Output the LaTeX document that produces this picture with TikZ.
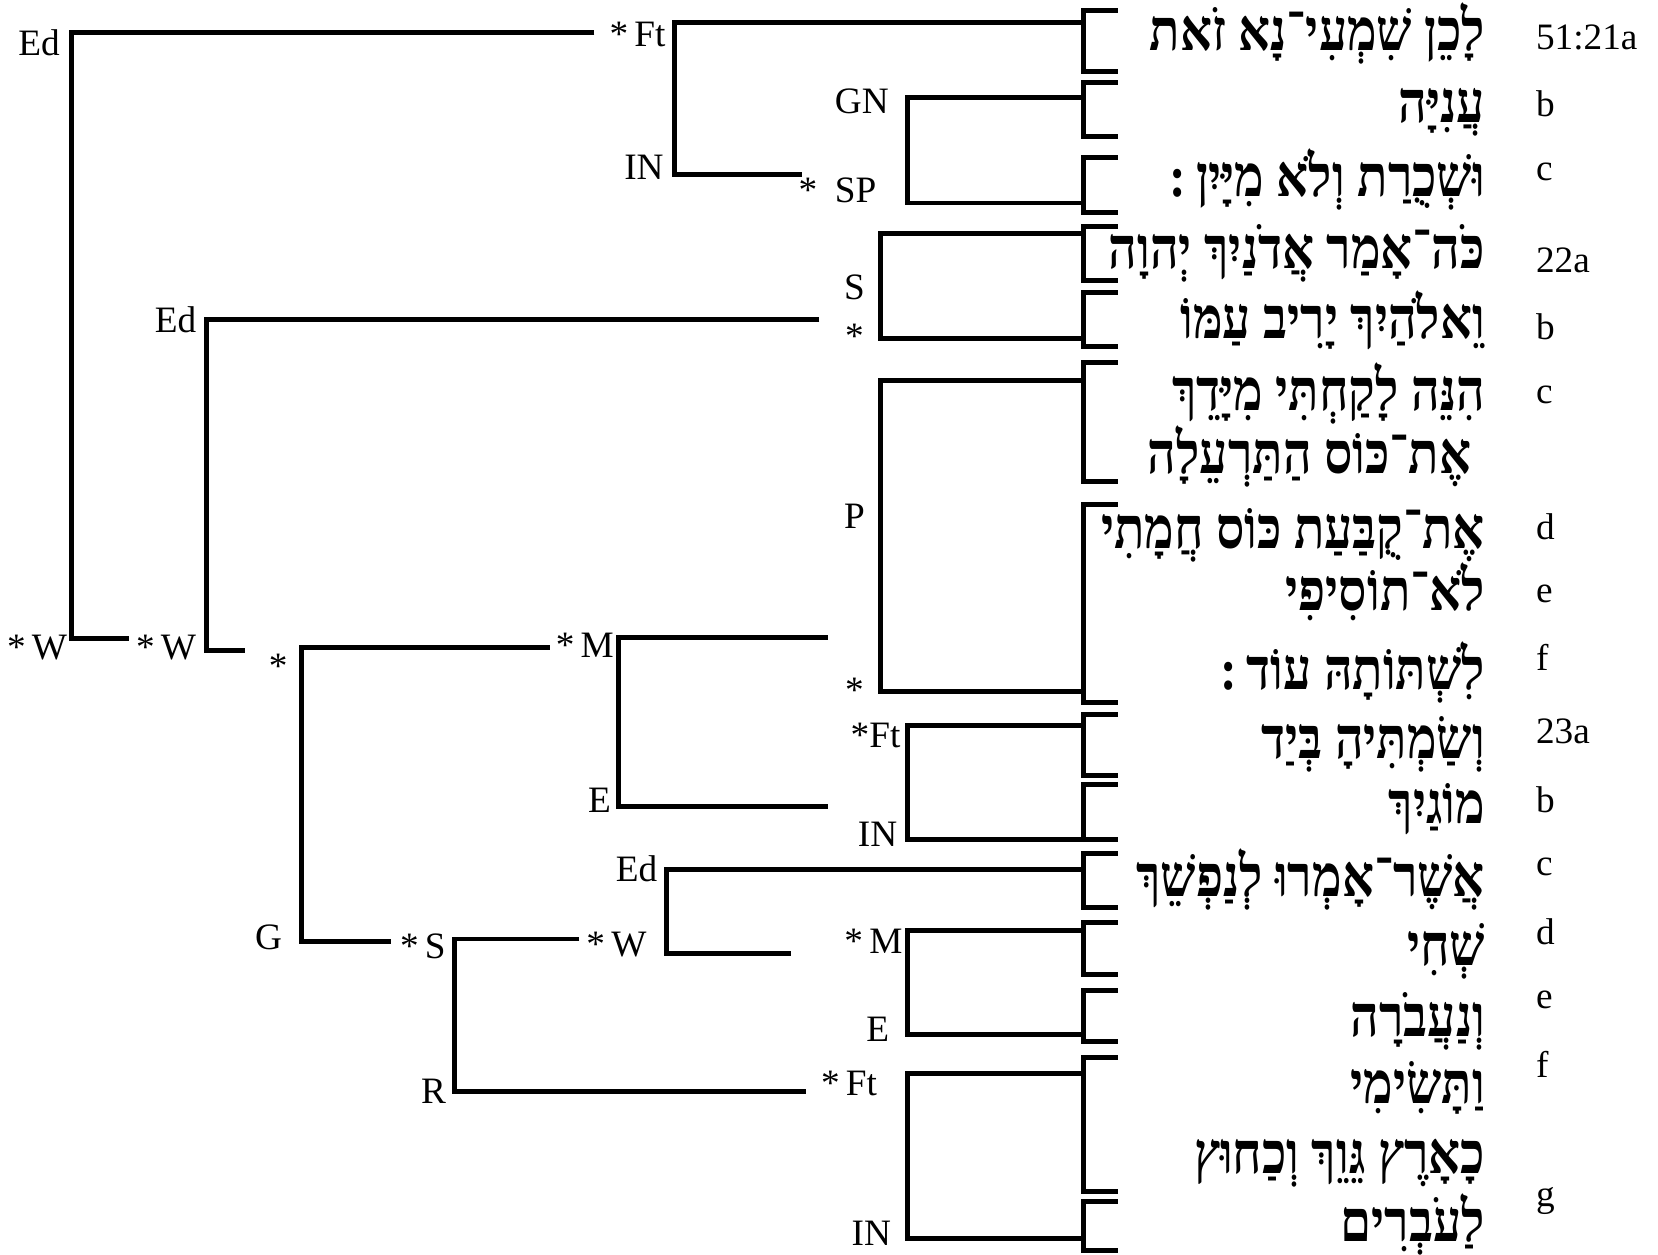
\documentclass[tikz,border=0pt]{standalone}
\usepackage{fontspec}
\setmainfont{Liberation Serif}
\newfontfamily\hebfont[Script=Hebrew,FakeStretch=0.86]{Liberation Serif}
\TeXXeTstate=1

\begin{document}
\begin{tikzpicture}[x=0.10574mm,y=-0.10574mm,
  branch/.style={line width=1.4pt,line join=miter},
  lab/.style={font=\fontsize{10.6}{12}\selectfont,inner sep=0pt},
  verse/.style={font=\fontsize{10.6}{12}\selectfont,inner sep=0pt,anchor=base west},
  heb/.style={font=\hebfont\bfseries\fontsize{16.5}{20}\selectfont,inner sep=0pt,anchor=base east}]
  \useasboundingbox (0,0) rectangle (1568,1186);

  \coordinate (root-t) at (68,31);
  \coordinate (root-b) at (68,604);
  \coordinate (root-e1) at (562,31);
  \coordinate (root-e2) at (122,604);
  \coordinate (ft1-t) at (638,21);
  \coordinate (ft1-b) at (638,165);
  \coordinate (ft1-e2) at (758,165);
  \coordinate (gn-t) at (858,92);
  \coordinate (gn-b) at (858,192);
  \coordinate (w1-t) at (195,302);
  \coordinate (w1-b) at (195,615);
  \coordinate (w1-e1) at (775,302);
  \coordinate (w1-e2) at (232,615);
  \coordinate (s1-t) at (833,221);
  \coordinate (s1-b) at (833,320);
  \coordinate (p-t) at (833,360);
  \coordinate (p-b) at (833,654);
  \coordinate (g-t) at (285,612);
  \coordinate (g-b) at (285,890);
  \coordinate (g-e1) at (520,612);
  \coordinate (g-e2) at (370,890);
  \coordinate (m1-t) at (585,603);
  \coordinate (m1-b) at (585,763);
  \coordinate (m1-e1) at (783,603);
  \coordinate (m1-e2) at (783,763);
  \coordinate (ft2-t) at (858,686);
  \coordinate (ft2-b) at (858,794);
  \coordinate (s2-t) at (430,888);
  \coordinate (s2-b) at (430,1032);
  \coordinate (s2-e1) at (548,888);
  \coordinate (s2-e2) at (762,1032);
  \coordinate (w2-t) at (630,822);
  \coordinate (w2-b) at (630,902);
  \coordinate (w2-e2) at (748,902);
  \coordinate (m2-t) at (858,880);
  \coordinate (m2-b) at (858,978);
  \coordinate (ft3-t) at (858,1015);
  \coordinate (ft3-b) at (858,1171);

  \coordinate (br1) at (1025,21);
  \coordinate (br2) at (1025,92);
  \coordinate (br3) at (1025,192);
  \coordinate (br4) at (1025,221);
  \coordinate (br5) at (1025,320);
  \coordinate (br6) at (1025,360);
  \coordinate (br7) at (1025,654);
  \coordinate (br8) at (1025,686);
  \coordinate (br9) at (1025,794);
  \coordinate (br10) at (1025,822);
  \coordinate (br11) at (1025,880);
  \coordinate (br12) at (1025,978);
  \coordinate (br13) at (1025,1015);
  \coordinate (br14) at (1025,1171);

  \draw[branch] (root-e1) -- (root-t) -- (root-b) -- (root-e2);
  \draw[branch] (br1) -- (ft1-t) -- (ft1-b) -- (ft1-e2);
  \draw[branch] (br2) -- (gn-t) -- (gn-b) -- (br3);
  \draw[branch] (w1-e1) -- (w1-t) -- (w1-b) -- (w1-e2);
  \draw[branch] (br4) -- (s1-t) -- (s1-b) -- (br5);
  \draw[branch] (br6) -- (p-t) -- (p-b) -- (br7);
  \draw[branch] (g-e1) -- (g-t) -- (g-b) -- (g-e2);
  \draw[branch] (m1-e1) -- (m1-t) -- (m1-b) -- (m1-e2);
  \draw[branch] (br8) -- (ft2-t) -- (ft2-b) -- (br9);
  \draw[branch] (s2-e1) -- (s2-t) -- (s2-b) -- (s2-e2);
  \draw[branch] (br10) -- (w2-t) -- (w2-b) -- (w2-e2);
  \draw[branch] (br11) -- (m2-t) -- (m2-b) -- (br12);
  \draw[branch] (br13) -- (ft3-t) -- (ft3-b) -- (br14);

  \draw[branch] (1057,10) -- (1025,10) -- (1025,68) -- (1057,68);
  \draw[branch] (1057,78) -- (1025,78) -- (1025,129) -- (1057,129);
  \draw[branch] (1057,149) -- (1025,149) -- (1025,201) -- (1057,201);
  \draw[branch] (1057,214) -- (1025,214) -- (1025,265) -- (1057,265);
  \draw[branch] (1057,277) -- (1025,277) -- (1025,328) -- (1057,328);
  \draw[branch] (1057,343) -- (1025,343) -- (1025,455) -- (1057,455);
  \draw[branch] (1057,477) -- (1025,477) -- (1025,664) -- (1057,664);
  \draw[branch] (1057,676) -- (1025,676) -- (1025,733) -- (1057,733);
  \draw[branch] (1057,742) -- (1025,742) -- (1025,794) -- (1057,794);
  \draw[branch] (1057,807) -- (1025,807) -- (1025,858) -- (1057,858);
  \draw[branch] (1057,872) -- (1025,872) -- (1025,922) -- (1057,922);
  \draw[branch] (1057,937) -- (1025,937) -- (1025,985) -- (1057,985);
  \draw[branch] (1057,1000) -- (1025,1000) -- (1025,1127) -- (1057,1127);
  \draw[branch] (1057,1136) -- (1025,1136) -- (1025,1183) -- (1057,1183);

  \node[lab] (ed1) at (37,40) {Ed};
  \node[lab] (w1lab) at (35,612) {*\,W};
  \node[lab] (ft1lab) at (603,33) {*\,Ft};
  \node[lab] (in1) at (609,158) {IN};
  \node[lab] (gnlab) at (815,96) {GN};
  \node[lab] (splab) at (792,180) {*\hspace{5pt}SP};
  \node[lab] (ed2) at (166,302) {Ed};
  \node[lab] (w2lab) at (157,612) {*\,W};
  \node[lab] (s1lab) at (808,272) {S};
  \node[lab] (star1) at (808,318) {*};
  \node[lab] (plab) at (808,488) {P};
  \node[lab] (star2) at (808,653) {*};
  \node[lab] (star3) at (263,630) {*};
  \node[lab] (glab) at (254,886) {G};
  \node[lab] (m1lab) at (553,610) {*\,M};
  \node[lab] (e1lab) at (567,757) {E};
  \node[lab] (ft2lab) at (828,696) {*Ft};
  \node[lab] (in2) at (830,789) {IN};
  \node[lab] (s2lab) at (400,895) {*\,S};
  \node[lab] (rlab) at (410,1032) {R};
  \node[lab] (w3lab) at (583,893) {*\,W};
  \node[lab] (ed3) at (602,822) {Ed};
  \node[lab] (m2lab) at (826,890) {*\,M};
  \node[lab] (e2lab) at (830,973) {E};
  \node[lab] (ft3lab) at (803,1025) {*\,Ft};
  \node[lab] (in3) at (824,1166) {IN};

  \node[heb] (h1) at (1405,48) {\beginR לָכֵן שִׁמְעִי־נָא זֹאת\endR};
  \node[heb] (h2) at (1405,116) {\beginR עֲנִיָּה\endR};
  \node[heb] (h3) at (1405,186) {\beginR וּשְׁכֻרַת וְלֹא מִיָּיִן\,:\endR};
  \node[heb] (h4) at (1405,254) {\beginR כֹּה־אָמַר אֲדֹנַיִךְ יְהוָה\endR};
  \node[heb] (h5) at (1405,320) {\beginR וֵאלֹהַיִךְ יָרִיב עַמּוֹ\endR};
  \node[heb] (h6) at (1405,388) {\beginR הִנֵּה לָקַחְתִּי מִיָּדֵךְ\endR};
  \node[heb] (h6b) at (1392,448) {\beginR אֶת־כּוֹס הַתַּרְעֵלָה\endR};
  \node[heb] (h7) at (1405,519) {\beginR אֶת־קֻבַּעַת כּוֹס חֲמָתִי\endR};
  \node[heb] (h8) at (1405,577) {\beginR לֹא־תוֹסִיפִי\endR};
  \node[heb] (h9) at (1405,652) {\beginR לִשְׁתּוֹתָהּ עוֹד\,:\endR};
  \node[heb] (h10) at (1405,717) {\beginR וְשַׂמְתִּיהָ בְּיַד\endR};
  \node[heb] (h11) at (1405,779) {\beginR מוֹגַיִךְ\endR};
  \node[heb] (h12) at (1405,848) {\beginR אֲשֶׁר־אָמְרוּ לְנַפְשֵׁךְ\endR};
  \node[heb] (h13) at (1405,913) {\beginR שְׁחִי\endR};
  \node[heb] (h14) at (1405,980) {\beginR וְנַעֲבֹרָה\endR};
  \node[heb] (h15) at (1405,1044) {\beginR וַתָּשִׂימִי\endR};
  \node[heb] (h16) at (1405,1110) {\beginR כָאָרֶץ גֵּוֵךְ וְכַחוּץ\endR};
  \node[heb] (h17) at (1405,1174) {\beginR לַעֹבְרִים\endR};

  \node[verse] (v1) at (1452,47) {51:21a};
  \node[verse] (v2) at (1452,110) {b};
  \node[verse] (v3) at (1452,171) {c};
  \node[verse] (v4) at (1452,258) {22a};
  \node[verse] (v5) at (1452,321) {b};
  \node[verse] (v6) at (1452,382) {c};
  \node[verse] (v7) at (1452,510) {d};
  \node[verse] (v8) at (1452,570) {e};
  \node[verse] (v9) at (1452,634) {f};
  \node[verse] (v10) at (1452,703) {23a};
  \node[verse] (v11) at (1452,768) {b};
  \node[verse] (v12) at (1452,828) {c};
  \node[verse] (v13) at (1452,893) {d};
  \node[verse] (v14) at (1452,954) {e};
  \node[verse] (v15) at (1452,1019) {f};
  \node[verse] (v16) at (1452,1141) {g};
\end{tikzpicture}
\end{document}
